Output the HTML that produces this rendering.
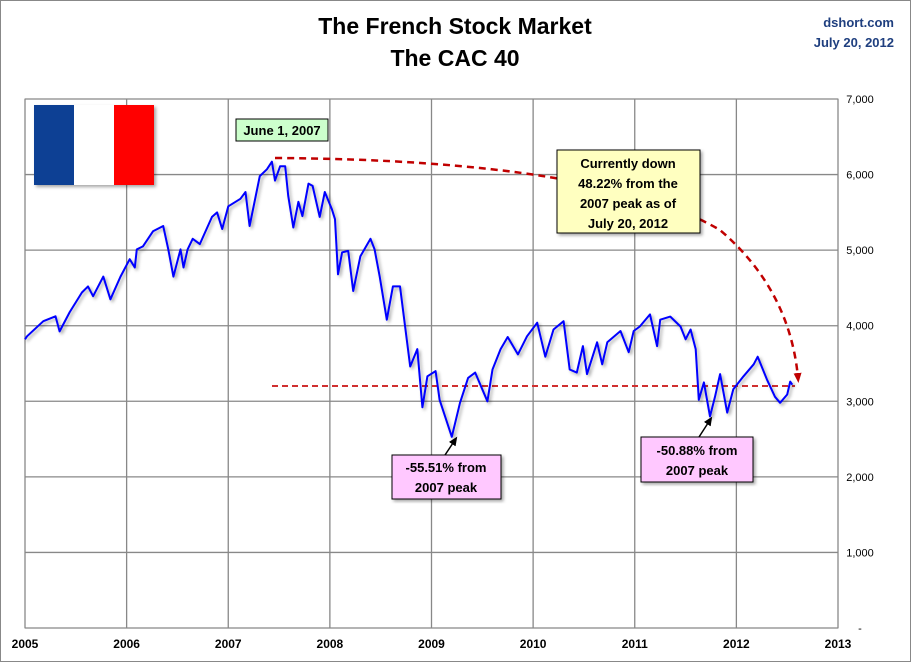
<!DOCTYPE html>
<html><head><meta charset="utf-8"><style>
body{margin:0;background:#fff;font-family:"Liberation Sans",sans-serif}
svg text{font-family:"Liberation Sans",sans-serif}
</style></head><body>
<svg width="911" height="662" viewBox="0 0 911 662">
<defs>
<marker id="ar" markerUnits="userSpaceOnUse" markerWidth="10" markerHeight="10" refX="5" refY="5" orient="auto"><path d="M0,1L10,5L0,9z" fill="#c00000"/></marker>
<marker id="ab" markerUnits="userSpaceOnUse" markerWidth="9" markerHeight="9" refX="5" refY="4.5" orient="auto"><path d="M0,0.5L9,4.5L0,8.5z" fill="#000"/></marker>
<filter id="sh"><feDropShadow dx="2" dy="2" stdDeviation="1.5" flood-color="#000" flood-opacity="0.35"/></filter>
</defs>
<rect x="0.5" y="0.5" width="910" height="661" fill="#fff" stroke="#888"/>
<text x="455" y="34" text-anchor="middle" font-size="23" font-weight="bold">The French Stock Market</text>
<text x="455" y="66" text-anchor="middle" font-size="23" font-weight="bold">The CAC 40</text>
<text x="894" y="27" text-anchor="end" font-size="13" font-weight="bold" fill="#1f3f7f">dshort.com</text>
<text x="894" y="47" text-anchor="end" font-size="13" font-weight="bold" fill="#1f3f7f">July 20, 2012</text>
<g id="grid"></g>
<g id="axes"></g>
<g filter="url(#sh)">
<rect x="34" y="105" width="40" height="80" fill="#0b3f94"/><rect x="74" y="105" width="40" height="80" fill="#fff"/><rect x="114" y="105" width="40" height="80" fill="#f00"/>
</g>
<line x1="272" y1="386" x2="795" y2="386" stroke="#d03030" stroke-width="2" stroke-dasharray="6,4"/>
<path d="M275,158 Q600,160 720,230 Q790,290 798,378" fill="none" stroke="#c00000" stroke-width="2.5" stroke-dasharray="7,5" marker-end="url(#ar)"/>
<g id="series" filter="url(#sh)"></g>
<g><rect x="236" y="119" width="92" height="22" fill="#ccffcc" stroke="#000"/><text x="282" y="135" text-anchor="middle" font-size="13" font-weight="bold">June 1, 2007</text></g>
<g filter="url(#sh)"><rect x="557" y="150" width="143" height="83" fill="#ffffc0" stroke="#000"/>
<text x="628" y="168" text-anchor="middle" font-size="13" font-weight="bold">Currently down</text>
<text x="628" y="188" text-anchor="middle" font-size="13" font-weight="bold">48.22% from the</text>
<text x="628" y="208" text-anchor="middle" font-size="13" font-weight="bold">2007 peak as of</text>
<text x="628" y="228" text-anchor="middle" font-size="13" font-weight="bold">July 20, 2012</text></g>
<line x1="445" y1="455" x2="455" y2="440" stroke="#000" stroke-width="1.5" marker-end="url(#ab)"/>
<g filter="url(#sh)"><rect x="392" y="455" width="109" height="44" fill="#ffc8ff" stroke="#000"/>
<text x="446" y="472" text-anchor="middle" font-size="13" font-weight="bold">-55.51% from</text><text x="446" y="492" text-anchor="middle" font-size="13" font-weight="bold">2007 peak</text></g>
<line x1="699" y1="437" x2="710" y2="420" stroke="#000" stroke-width="1.5" marker-end="url(#ab)"/>
<g filter="url(#sh)"><rect x="641" y="437" width="112" height="45" fill="#ffc8ff" stroke="#000"/>
<text x="697" y="455" text-anchor="middle" font-size="13" font-weight="bold">-50.88% from</text><text x="697" y="475" text-anchor="middle" font-size="13" font-weight="bold">2007 peak</text></g>
</svg>
<script>
const years=[2005,2006,2007,2008,2009,2010,2011,2012,2013];
const yTicks=[0,1000,2000,3000,4000,5000,6000,7000];
const yTickLabels=["-","1,000","2,000","3,000","4,000","5,000","6,000","7,000"];
const dates=[2005.0,2005.02,2005.18,2005.3,2005.34,2005.44,2005.56,2005.62,2005.67,2005.77,2005.84,2005.94,2006.03,2006.08,2006.1,2006.16,2006.26,2006.36,2006.41,2006.46,2006.53,2006.56,2006.6,2006.65,2006.72,2006.84,2006.89,2006.94,2007.0,2007.12,2007.17,2007.21,2007.31,2007.38,2007.43,2007.46,2007.51,2007.56,2007.59,2007.64,2007.69,2007.73,2007.79,2007.83,2007.9,2007.95,2008.02,2008.05,2008.08,2008.12,2008.18,2008.23,2008.3,2008.4,2008.44,2008.49,2008.56,2008.62,2008.69,2008.74,2008.79,2008.86,2008.91,2008.96,2009.04,2009.08,2009.2,2009.28,2009.36,2009.43,2009.55,2009.6,2009.68,2009.75,2009.85,2009.94,2010.04,2010.12,2010.2,2010.3,2010.36,2010.43,2010.49,2010.53,2010.63,2010.68,2010.73,2010.86,2010.94,2010.99,2011.05,2011.15,2011.22,2011.25,2011.35,2011.45,2011.5,2011.55,2011.6,2011.63,2011.68,2011.74,2011.79,2011.84,2011.91,2011.97,2012.07,2012.17,2012.21,2012.3,2012.38,2012.43,2012.5,2012.53,2012.55];
const values=[3820,3860,4060,4125,3925,4180,4440,4520,4390,4650,4350,4650,4880,4770,5010,5050,5250,5320,5010,4650,5010,4770,5010,5150,5080,5440,5500,5280,5580,5680,5770,5320,5980,6070,6170,5920,6110,6110,5720,5300,5640,5450,5880,5850,5440,5770,5540,5410,4680,4970,4990,4460,4920,5150,5010,4650,4080,4520,4520,3990,3460,3690,2920,3330,3400,3020,2530,2980,3310,3380,3000,3420,3690,3850,3620,3860,4040,3590,3950,4060,3420,3380,3730,3360,3780,3490,3780,3930,3650,3930,3990,4150,3730,4080,4120,3990,3820,3950,3690,3020,3250,2800,3060,3360,2850,3160,3330,3490,3590,3290,3060,2980,3090,3260,3220];
const X0=25,X1=838,Y0=628,Y1=99;
const sx=t=>X0+(t-2005)/8*(X1-X0);
const sy=v=>Y0-v/7000*(Y0-Y1);
const NS="http://www.w3.org/2000/svg";
const grid=document.getElementById('grid'),axes=document.getElementById('axes'),series=document.getElementById('series');
function mk(tag,attrs,parent){const e=document.createElementNS(NS,tag);for(const k in attrs)e.setAttribute(k,attrs[k]);parent.appendChild(e);return e;}
const bg=mk('rect',{x:X0,y:Y1,width:X1-X0,height:Y0-Y1,fill:'#fff',stroke:'#888'},grid);


yTicks.forEach((v,i)=>{
 const l=mk('line',{x1:X0,x2:X1,y1:sy(v),y2:sy(v),stroke:'#888','stroke-width':1.3},grid);
 
 
 const t=mk('text',{x:X1+22,y:sy(v)+4,'font-size':11,'text-anchor':'middle'},axes);
 t.textContent=yTickLabels[i];
 
 
});
years.forEach(y=>{
 const l=mk('line',{x1:sx(y),x2:sx(y),y1:Y1,y2:Y0,stroke:'#888','stroke-width':1.3},grid);
 
 
 const t=mk('text',{x:sx(y),y:Y0+20,'font-size':12,'font-weight':'bold','text-anchor':'middle'},axes);
 t.textContent=y;
 
 
});
let d='';dates.forEach((t,i)=>{d+=(i?'L':'M')+sx(t).toFixed(1)+','+sy(values[i]).toFixed(1);});
const p=mk('path',{d:d,fill:'none',stroke:'#0000ff','stroke-width':2,'stroke-linejoin':'round'},series);


</script>
</body></html>
